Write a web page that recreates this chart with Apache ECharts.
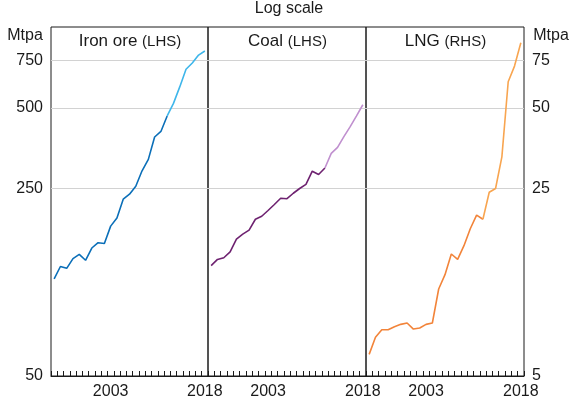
<!DOCTYPE html>
<html>
<head>
<meta charset="utf-8">
<script src="https://cdn.jsdelivr.net/npm/echarts@6/dist/echarts.min.js"></script>
<style>html,body{margin:0;padding:0;background:#fff}#c{width:570px;height:405px}</style>
</head>
<body>
<div id="c"></div>
<script>
// Years (annual data, shown at category centres)
const years = ['1994','1995','1996','1997','1998','1999','2000','2001','2002','2003','2004','2005','2006','2007','2008','2009','2010','2011','2012','2013','2014','2015','2016','2017','2018'];
// Iron ore, Mtpa (LHS)
const ironOre = [115,128,126,137,142,135,150,157,156,181,194,228,238,255,291,321,389,408,466,519,598,696,734,786,814];
// Coal, Mtpa (LHS)
const coal = [129,136,138,145,162,169,175,192,197,207,218,230,229,240,250,259,290,282,298,338,356,390,425,466,513];
// LNG, Mtpa (RHS)
const lng = [6.02,6.97,7.44,7.44,7.63,7.79,7.88,7.48,7.55,7.79,7.88,10.55,11.93,14.25,13.6,15.3,17.7,19.9,19.2,24.2,25.0,32.8,62.5,71.5,87.4];
// index where the lighter (projection) segment starts
const splitIdx = 18;
const lhsTicks = [50,250,500,750];
const rhsTicks = [5,25,50,75];
const xLabels = ['2003','2018'];

const FONT = '"Liberation Sans", Arial, sans-serif';
const TXT = '#1a1a1a';

function part(arr, dark) {
  return arr.map((v, i) => dark ? (i <= splitIdx ? v : null) : (i >= splitIdx ? v : null));
}

const grids = [
  {left: 51, right: 362, top: 27, bottom: 29},
  {left: 208, right: 204, top: 27, bottom: 29},
  {left: 366, right: 46, top: 27, bottom: 29}
].map(g => Object.assign(g, {show: true, borderColor: '#1a1a1a', borderWidth: 1, backgroundColor: 'transparent'}));

const xAxes = [0,1,2].map(i => ({
  type: 'category', gridIndex: i, data: years, boundaryGap: true,
  axisLine: {show: true, lineStyle: {color: '#1a1a1a', width: 1}},
  axisTick: {show: true, inside: true, length: 5, interval: 0, lineStyle: {color: '#1a1a1a'}},
  axisLabel: {
    interval: (idx, val) => xLabels.indexOf(val) >= 0,
    color: TXT, fontFamily: FONT, fontSize: 16, margin: 8
  },
  splitLine: {show: false}
}));

function yAx(i, min, max, ticks, showLabels, pos) {
  return {
    type: 'log', logBase: 10, gridIndex: i, min: min, max: max, position: pos,
    axisLine: {show: false},
    axisTick: {show: false, customValues: ticks},
    axisLabel: {show: showLabels, customValues: ticks, color: TXT, fontFamily: FONT, fontSize: 16, margin: 8},
    splitLine: {show: true, lineStyle: {color: '#d2d2d2', width: 1}}
  };
}

const yAxes = [
  yAx(0, 50, 1000, lhsTicks, true, 'left'),
  yAx(1, 50, 1000, lhsTicks, false, 'left'),
  yAx(2, 5, 100, rhsTicks, true, 'right')
];

function lineSeries(i, data, color) {
  return {
    type: 'line', xAxisIndex: i, yAxisIndex: i, data: data, symbol: 'none',
    connectNulls: false, lineStyle: {color: color, width: 1.6}, itemStyle: {color: color},
    z: 5
  };
}

const series = [
  lineSeries(0, part(ironOre, true), '#0b6fb8'),
  lineSeries(0, part(ironOre, false), '#3fb6ea'),
  lineSeries(1, part(coal, true), '#6e2270'),
  lineSeries(1, part(coal, false), '#c090cf'),
  lineSeries(2, part(lng, true), '#f2843a'),
  lineSeries(2, part(lng, false), '#f8a550')
];

const rich = {m: {fontFamily: FONT, fontSize: 17, fill: TXT}, s: {fontFamily: FONT, fontSize: 15, fill: TXT}};

const chart = echarts.init(document.getElementById('c'), null, {renderer: 'canvas'});
chart.setOption({
  animation: false,
  backgroundColor: '#fff',
  grid: grids,
  xAxis: xAxes,
  yAxis: yAxes,
  series: series,
  graphic: [
    {type: 'text', x: 289, y: 1, style: {text: 'Log scale', align: 'center', fontFamily: FONT, fontSize: 16, fill: TXT}},
    {type: 'text', x: 25, y: 28, style: {text: 'Mtpa', align: 'center', fontFamily: FONT, fontSize: 16, fill: TXT}},
    {type: 'text', x: 551, y: 28, style: {text: 'Mtpa', align: 'center', fontFamily: FONT, fontSize: 16, fill: TXT}},
    {type: 'text', x: 130, y: 33, style: {text: '{m|Iron ore }{s|(LHS)}', align: 'center', rich: rich}},
    {type: 'text', x: 287.5, y: 33, style: {text: '{m|Coal }{s|(LHS)}', align: 'center', rich: rich}},
    {type: 'text', x: 445.5, y: 33, style: {text: '{m|LNG }{s|(RHS)}', align: 'center', rich: rich}}
  ]
});
</script>
</body>
</html>
